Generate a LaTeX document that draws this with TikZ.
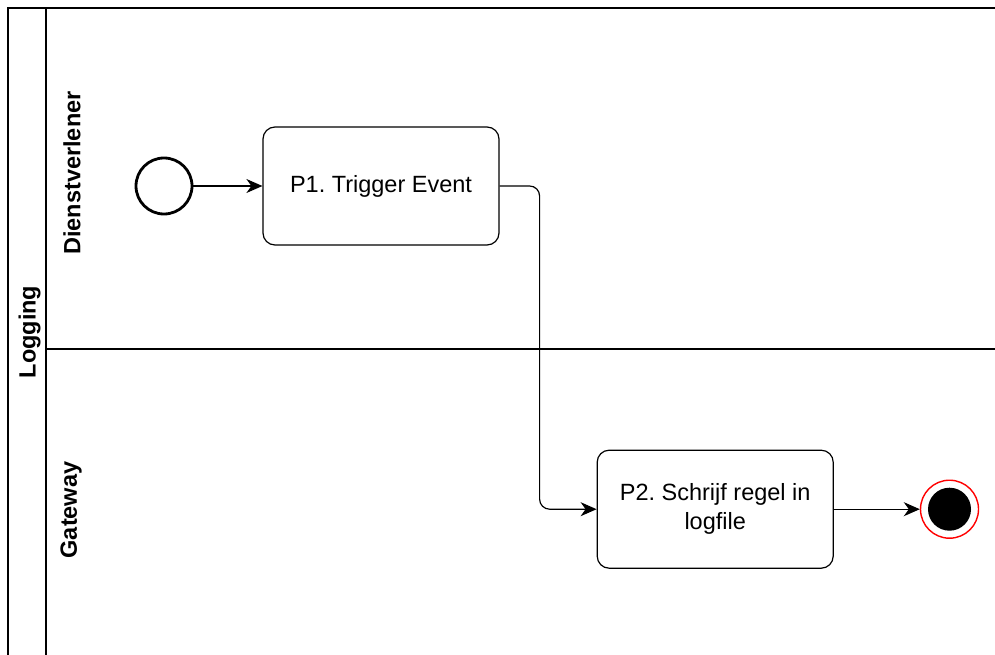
\documentclass[tikz,border=0pt]{standalone}
\usepackage{fontspec}
\setmainfont{Liberation Sans}
\usetikzlibrary{positioning,arrows.meta}
\frenchspacing

\begin{document}
\begin{tikzpicture}[x=1pt, y=-1pt, line width=1.2pt,
  task/.style={draw, rounded corners=12pt, minimum width=236pt, minimum height=118pt,
    align=center, font=\fontsize{23.5}{29}\selectfont},
  startevt/.style={draw, circle, line width=2.8pt, minimum size=56pt, inner sep=0pt},
  endevt/.style={draw=red, circle, line width=1.4pt, minimum size=58pt, inner sep=0pt},
  flow/.style={-{Stealth[length=16pt,width=14pt,inset=5pt]}},
  lanelabel/.style={rotate=90, font=\bfseries\fontsize{23.5}{24}\selectfont}]
 \fill[white] (0,0) rectangle (995,655);
 \useasboundingbox (0,0) rectangle (995,655);
 % pool and lanes
 \draw (995,8) -- (8,8) -- (8,660);
 \draw (46,8) -- (46,660);
 \draw (46,349) -- (995,349);
 \node[lanelabel] (pool) at (29.5,332) {Logging};
 \node[lanelabel] (lane1) at (72,173) {Dienstverlener};
 \node[lanelabel] (lane2) at (71,510) {Gateway};
 % events and tasks
 \node[startevt] (start) at (164,186) {};
 \node[task, right=69pt of start] (p1) {P1. Trigger Event};
 \node[task, below right=204pt and 97pt of p1.south east, anchor=north west] (p2) {P2. Schrijf regel in\\logfile};
 \node[endevt, right=86pt of p2] (end) {};
 \fill[black] (end.center) circle (21.5pt);
 % flows
 \draw[flow] (start) -- (p1);
 \draw[flow, rounded corners=10pt] (p1.east) -- ++(40,0) |- (p2.west);
 \draw[flow] (p2) -- (end);
\end{tikzpicture}
\end{document}
